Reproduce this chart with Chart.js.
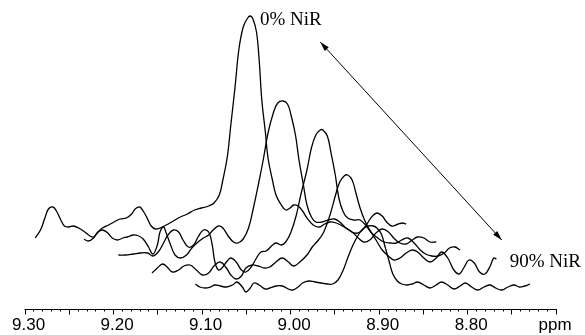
<!DOCTYPE html>
<html>
<head>
<meta charset="utf-8">
<script src="https://cdn.jsdelivr.net/npm/chart.js@4/dist/chart.umd.min.js"></script>
<style>
  html, body { margin: 0; padding: 0; background: #fff; }
  #nmrChart { display: block; }
</style>
</head>
<body>
<canvas id="nmrChart" width="585" height="335"></canvas>
<script>
// axis ticks (ppm) and their labels
const tickValues = [9.30, 9.20, 9.10, 9.00, 8.90, 8.80, 8.70]
const tickLabels = ['9.30', '9.20', '9.10', '9.00', '8.90', '8.80', 'ppm\u00a0\u00a0']

// spectra, back (0% NiR) to front (90% NiR): ppm positions and intensities
const ppm0 = [9.288, 9.282, 9.277, 9.273, 9.268, 9.264, 9.259, 9.255, 9.250, 9.245, 9.239, 9.232, 9.226, 9.222, 9.218, 9.212, 9.205, 9.199, 9.192, 9.185, 9.179, 9.175, 9.170, 9.166, 9.161, 9.157, 9.152, 9.147, 9.140, 9.132, 9.124, 9.116, 9.108, 9.100, 9.092, 9.086, 9.080, 9.076, 9.071, 9.067, 9.062, 9.058, 9.053, 9.048, 9.045, 9.042, 9.038, 9.035, 9.032, 9.028, 9.025, 9.020, 9.016, 9.010, 9.005, 9.000, 8.996, 8.991, 8.986, 8.981, 8.974, 8.967, 8.961, 8.955, 8.948, 8.941, 8.935, 8.928, 8.921, 8.914, 8.908, 8.902, 8.896, 8.891, 8.885, 8.878, 8.873, 8.869]
const int0 = [-9, -1, 11, 20, 22, 18, 9, 3, 2, 3, 1, -3, -7, -8, -4, 1, 4, 7, 10, 11, 15, 20, 22, 18, 10, 3, 0, 1, 4, 8, 12, 15, 19, 21, 23, 26, 34, 49, 72, 104, 144, 179, 202, 211, 213, 210, 197, 169, 129, 97, 71, 49, 34, 24, 19, 21, 24, 23, 18, 11, 4, 2, 5, 7, 6, 3, 0, -4, -3, 4, 12, 16, 13, 7, 3, 5, 6, 5]

const ppm1 = [9.233, 9.228, 9.222, 9.217, 9.212, 9.206, 9.201, 9.195, 9.189, 9.184, 9.177, 9.171, 9.166, 9.160, 9.155, 9.150, 9.147, 9.143, 9.140, 9.135, 9.130, 9.124, 9.117, 9.111, 9.104, 9.098, 9.092, 9.087, 9.081, 9.076, 9.070, 9.064, 9.059, 9.053, 9.047, 9.042, 9.036, 9.030, 9.025, 9.019, 9.014, 9.008, 9.003, 8.999, 8.994, 8.990, 8.985, 8.981, 8.976, 8.971, 8.964, 8.957, 8.950, 8.944, 8.937, 8.930, 8.923, 8.917, 8.910, 8.903, 8.896, 8.889, 8.883, 8.876, 8.869, 8.862, 8.856, 8.849, 8.842, 8.835]
const int1 = [2, 0, 3, 9, 11, 8, 3, 1, 3, 4, 6, 5, 2, -6, -13, -4, 9, 14, 8, -4, -14, -17, -14, -7, -1, 3, 6, 11, 15, 13, 5, -1, -2, 2, 13, 31, 56, 83, 108, 128, 138, 140, 137, 126, 106, 81, 56, 36, 24, 19, 19, 21, 22, 19, 13, 9, 3, -1, 1, 8, 12, 9, 3, -2, -3, 1, 4, 3, -1, -1]

const ppm2 = [9.194, 9.186, 9.177, 9.169, 9.161, 9.155, 9.149, 9.143, 9.138, 9.132, 9.126, 9.121, 9.115, 9.109, 9.104, 9.098, 9.092, 9.088, 9.085, 9.081, 9.077, 9.072, 9.067, 9.061, 9.055, 9.050, 9.044, 9.038, 9.033, 9.027, 9.021, 9.016, 9.010, 9.005, 8.999, 8.993, 8.988, 8.981, 8.976, 8.971, 8.966, 8.963, 8.958, 8.954, 8.949, 8.945, 8.940, 8.935, 8.928, 8.921, 8.914, 8.908, 8.901, 8.894, 8.887, 8.880, 8.874, 8.867, 8.860, 8.853, 8.847, 8.840, 8.833, 8.826, 8.820, 8.814, 8.808]
const int2 = [-1, -1, 0, 1, 1, -2, 2, 11, 19, 24, 22, 14, 7, 9, 17, 24, 22, 9, -8, -16, -14, -8, -4, -8, -16, -18, -13, -4, 2, 3, 8, 11, 9, 12, 22, 39, 59, 84, 106, 119, 124, 124, 118, 102, 79, 56, 42, 36, 34, 34, 28, 21, 16, 12, 11, 11, 14, 16, 11, 4, 0, -2, -2, 1, 6, 7, 4]

const ppm3 = [9.156, 9.150, 9.144, 9.139, 9.133, 9.126, 9.120, 9.113, 9.106, 9.099, 9.092, 9.086, 9.079, 9.072, 9.067, 9.061, 9.055, 9.050, 9.043, 9.036, 9.029, 9.023, 9.016, 9.009, 9.002, 8.996, 8.989, 8.981, 8.975, 8.968, 8.962, 8.955, 8.949, 8.944, 8.939, 8.935, 8.930, 8.926, 8.921, 8.915, 8.910, 8.903, 8.896, 8.889, 8.883, 8.876, 8.869, 8.862, 8.856, 8.849, 8.842, 8.835, 8.829, 8.822, 8.815, 8.809, 8.804, 8.798, 8.792, 8.786, 8.780, 8.774, 8.770, 8.767]
const int3 = [-4, 1, 5, 2, -3, -1, 3, 4, -1, -6, -4, 3, 7, 1, -6, -10, -7, 1, 4, 3, 1, 2, 7, 11, 7, 3, 7, 14, 22, 29, 37, 54, 73, 87, 93, 94, 89, 77, 61, 47, 39, 29, 19, 13, 9, 11, 16, 19, 17, 11, 7, 11, 17, 11, -1, -5, 1, 9, 6, -3, -5, 3, 11, 10]

const ppm4 = [9.107, 9.102, 9.096, 9.090, 9.085, 9.079, 9.072, 9.065, 9.060, 9.054, 9.050, 9.045, 9.041, 9.035, 9.028, 9.023, 9.016, 9.009, 9.002, 8.997, 8.991, 8.986, 8.979, 8.972, 8.965, 8.958, 8.952, 8.946, 8.940, 8.935, 8.929, 8.923, 8.918, 8.912, 8.906, 8.902, 8.897, 8.893, 8.888, 8.884, 8.879, 8.874, 8.868, 8.862, 8.856, 8.849, 8.842, 8.835, 8.829, 8.822, 8.815, 8.808, 8.802, 8.795, 8.788, 8.781, 8.774, 8.768, 8.761, 8.754, 8.747, 8.741, 8.735, 8.729]
const int4 = [1, -2, -3, -2, 0, -1, -2, 0, 3, -2, -7, -3, 2, 0, -4, -3, -1, -1, -4, -5, -2, 2, 4, 3, 2, 1, 1, 5, 15, 27, 40, 50, 56, 59, 59, 57, 51, 39, 23, 11, 4, 1, 0, 1, 3, 0, -3, 0, 3, 0, -4, -1, 2, -2, -5, -2, 0, -3, -5, -2, 0, -2, -1, 1]

// vertical stacking of the traces (same units as intensity)
const stackOffsets = [80, 68, 55, 40, 24]

// annotation anchors in axis units [ppm, height]
const arrowFrom = [8.966, 267]
const arrowTo = [8.761, 69]
const labelTop = { text: '0% NiR', at: [9.034, 289] }
const labelBottom = { text: '90% NiR', at: [8.752, 47] }

const traces = [[ppm0, int0], [ppm1, int1], [ppm2, int2], [ppm3, int3], [ppm4, int4]]

const datasets = traces.map(([xs, ys], i) => ({
  data: xs.map((x, k) => ({ x: x, y: ys[k] + stackOffsets[i] })),
  borderColor: '#000',
  borderWidth: 1.3,
  pointRadius: 0,
  tension: 0.4,
  fill: false
}))

// ppm axis with long ticks every 0.05 and short ones every 0.01
const axisPlugin = {
  id: 'ppmAxis',
  afterDraw(chart) {
    const { ctx, chartArea } = chart
    const xs = chart.scales.x
    const y0 = Math.round(chartArea.bottom) + 0.5
    ctx.save()
    ctx.strokeStyle = '#000'
    ctx.lineWidth = 1
    ctx.beginPath()
    ctx.moveTo(chartArea.left, y0)
    ctx.lineTo(chartArea.right + 1, y0)
    for (let i = 0; i <= 60; i++) {
      const px = Math.round(xs.getPixelForValue(8.70 + i * 0.01)) + 0.5
      const len = i % 5 === 0 ? 5 : 2
      ctx.moveTo(px, y0)
      ctx.lineTo(px, y0 + len)
    }
    ctx.stroke()
    ctx.restore()
  }
}

// double arrow and the two NiR labels
const notesPlugin = {
  id: 'notes',
  afterDraw(chart) {
    const { ctx } = chart
    const sx = chart.scales.x
    const sy = chart.scales.y
    const p = a => [sx.getPixelForValue(a[0]), sy.getPixelForValue(a[1])]
    const [x1, y1] = p(arrowFrom)
    const [x2, y2] = p(arrowTo)
    ctx.save()
    ctx.strokeStyle = '#000'
    ctx.fillStyle = '#000'
    ctx.lineWidth = 1
    ctx.beginPath()
    ctx.moveTo(x1, y1)
    ctx.lineTo(x2, y2)
    ctx.stroke()
    const head = (tx, ty, fx, fy) => {
      const ang = Math.atan2(ty - fy, tx - fx)
      const L = 10, W = 0.28
      ctx.beginPath()
      ctx.moveTo(tx, ty)
      ctx.lineTo(tx - L * Math.cos(ang - W), ty - L * Math.sin(ang - W))
      ctx.lineTo(tx - L * Math.cos(ang + W), ty - L * Math.sin(ang + W))
      ctx.closePath()
      ctx.fill()
    }
    head(x1, y1, x2, y2)
    head(x2, y2, x1, y1)

    ctx.font = '19px "Liberation Serif", "Times New Roman", serif'
    ctx.textAlign = 'left'
    ctx.textBaseline = 'middle'
    for (const lab of [labelTop, labelBottom]) {
      const [lx, ly] = p(lab.at)
      ctx.fillText(lab.text, lx, ly)
    }
    ctx.restore()
  }
}

new Chart(document.getElementById('nmrChart'), {
  type: 'line',
  data: { datasets: datasets },
  options: {
    responsive: false,
    animation: false,
    devicePixelRatio: 1,
    layout: { padding: { left: 24, right: 29, top: 9, bottom: 0 } },
    plugins: {
      legend: { display: false },
      tooltip: { enabled: false }
    },
    scales: {
      x: {
        type: 'linear',
        reverse: true,
        min: 8.70,
        max: 9.30,
        grid: { display: false, drawTicks: false },
        border: { display: false },
        afterBuildTicks: scale => {
          scale.ticks = tickValues.map(v => ({ value: v }))
        },
        afterFit: scale => {
          scale.height = 26
        },
        ticks: {
          autoSkip: false,
          maxRotation: 0,
          padding: 8,
          labelOffset: 4,
          color: '#000',
          font: { family: '"Liberation Sans", Arial, sans-serif', size: 17, lineHeight: 1 },
          callback: (value, index) => tickLabels[index]
        }
      },
      y: {
        display: false,
        min: 0,
        max: 300
      }
    }
  },
  plugins: [axisPlugin, notesPlugin]
})
</script>
</body>
</html>
